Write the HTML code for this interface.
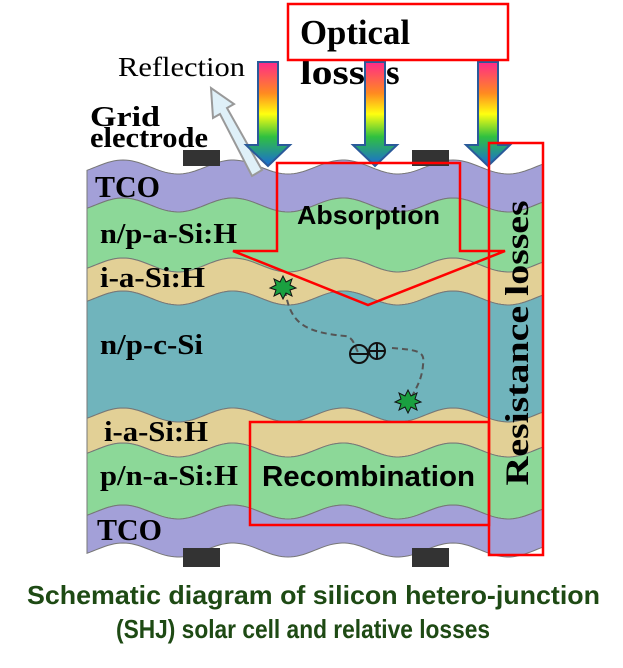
<!DOCTYPE html>
<html><head><meta charset="utf-8"><style>
html,body{margin:0;padding:0;background:#fff;}
svg{display:block;}
</style></head><body>
<svg id="s" width="623" height="668" viewBox="0 0 623 668" xmlns="http://www.w3.org/2000/svg">
<g id="layers"></g>
<rect x="183" y="150" width="37" height="16" fill="#333"/>
<rect x="412" y="150" width="37" height="16" fill="#333"/>
<rect x="183" y="548" width="37" height="19" fill="#333"/>
<rect x="412" y="548" width="37" height="19" fill="#333"/>
</svg>
<script>
const L=87,R=543,P=110,A=7,PH=123;
function wave(yc,dir){
  let pts=[];
  for(let x=L;x<=R;x+=3){pts.push([x,yc-A*Math.cos(2*Math.PI*(x-PH)/P)]);}
  if(dir<0)pts.reverse();
  return pts.map(p=>p[0].toFixed(1)+','+p[1].toFixed(1)).join(' ');
}
const b=[167,205,265,298,415,450,512,550];
const cols=['#a3a0d8','#8cd898','#e2d096','#70b4bc','#e2d096','#8cd898','#a3a0d8'];
let h='';
for(let i=0;i<7;i++){
  h+=`<polygon points="${wave(b[i],1)} ${wave(b[i+1],-1)}" fill="${cols[i]}" stroke="#777" stroke-width="1"/>`;
}
document.getElementById('layers').innerHTML=h;
</script>
<svg width="623" height="668" viewBox="0 0 623 668" style="position:absolute;left:0;top:0" xmlns="http://www.w3.org/2000/svg">
<defs>
<linearGradient id="rb2" x1="0" y1="0" x2="0" y2="1">
<stop offset="0" stop-color="#ff2a8a"/><stop offset="0.3" stop-color="#ff8a20"/><stop offset="0.5" stop-color="#ffff10"/><stop offset="0.72" stop-color="#30c040"/><stop offset="1" stop-color="#1a6ad8"/>
</linearGradient>
</defs>
<polygon points="262,170 252,176 220,114 213,118 211,88 234,104 227,108" fill="#dff0f8" stroke="#999" stroke-width="2"/>
<g stroke="#2a5a9a" stroke-width="2">
<polygon points="258,62 278,62 278,145 290,145 268,166 246,145 258,145" fill="url(#rb2)"/>
<polygon points="365,62 385,62 385,145 397,145 375,166 353,145 365,145" fill="url(#rb2)"/>
<polygon points="478,62 498,62 498,145 510,145 488,166 466,145 478,145" fill="url(#rb2)"/>
</g>
<g font-family="Liberation Serif, serif" fill="#000">
<text x="118" y="76" font-size="27" textLength="127" lengthAdjust="spacingAndGlyphs">Reflection</text>
<text x="90" y="126" font-size="28" font-weight="bold" textLength="70" lengthAdjust="spacingAndGlyphs">Grid</text>
<text x="90" y="147" font-size="28" font-weight="bold" textLength="118" lengthAdjust="spacingAndGlyphs">electrode</text>
<text x="300" y="44" font-size="35" font-weight="bold" textLength="110" lengthAdjust="spacingAndGlyphs">Optical</text>
<text x="300" y="84" font-size="35" font-weight="bold" textLength="65" lengthAdjust="spacingAndGlyphs">loss</text>
<text x="386" y="84" font-size="35" font-weight="bold">s</text>
<text x="95" y="197" font-size="31" font-weight="bold" textLength="65" lengthAdjust="spacingAndGlyphs">TCO</text>
<text x="100" y="243" font-size="28" font-weight="bold" textLength="137" lengthAdjust="spacingAndGlyphs">n/p-a-Si:H</text>
<text x="100" y="287" font-size="28" font-weight="bold" textLength="105" lengthAdjust="spacingAndGlyphs">i-a-Si:H</text>
<text x="100" y="354" font-size="28" font-weight="bold" textLength="103" lengthAdjust="spacingAndGlyphs">n/p-c-Si</text>
<text x="104" y="441" font-size="28" font-weight="bold" textLength="104" lengthAdjust="spacingAndGlyphs">i-a-Si:H</text>
<text x="100" y="485" font-size="28" font-weight="bold" textLength="138" lengthAdjust="spacingAndGlyphs">p/n-a-Si:H</text>
<text x="97" y="540" font-size="31" font-weight="bold" textLength="65" lengthAdjust="spacingAndGlyphs">TCO</text>
<text transform="translate(528,343) rotate(-90)" text-anchor="middle" font-size="33" font-weight="bold" textLength="285" lengthAdjust="spacingAndGlyphs">Resistance losses</text>
</g>
<g font-family="Liberation Sans, sans-serif" font-weight="bold" fill="#000">
<text x="297" y="224" font-size="26" textLength="143" lengthAdjust="spacingAndGlyphs">Absorption</text>
<text x="262" y="486" font-size="29" textLength="213" lengthAdjust="spacingAndGlyphs">Recombination</text>
</g>
<g fill="none" stroke="#f00" stroke-width="2.5">
<rect x="288" y="4" width="220" height="56"/>
<polygon points="277,163 460,163 460,251 505,251 368,305 233,251 277,251"/>
<rect x="489" y="143" width="54" height="412"/>
<rect x="250" y="422" width="239" height="103"/>
</g>
<path d="M285,290 C290,320 300,332 345,336 C355,337 355,350 360,355 M392,348 C420,350 425,352 423,365 C422,380 415,390 410,400" fill="none" stroke="#555" stroke-width="2" stroke-dasharray="6,4"/>
<g stroke="#111" stroke-width="2" fill="none">
<circle cx="359" cy="354" r="9"/><line x1="350" y1="354" x2="368" y2="354"/>
<circle cx="377" cy="351" r="8"/><line x1="369" y1="351" x2="385" y2="351"/><line x1="377" y1="343" x2="377" y2="359"/>
</g>
<g fill="#1aa040" stroke="#111" stroke-width="1">
<polygon points="283,276 286,282 292,279 290,285 296,288 290,290 292,296 286,293 283,299 280,293 274,296 276,290 270,288 276,285 274,279 280,282"/>
<polygon points="408,390 411,396 417,393 415,399 421,402 415,404 417,410 411,407 408,413 405,407 399,410 401,404 395,402 401,399 399,393 405,396"/>
</g>
<g font-family="Liberation Sans, sans-serif" font-weight="bold" fill="#1e4a14" font-size="26">
<text x="27" y="604" textLength="573" lengthAdjust="spacingAndGlyphs">Schematic diagram of silicon hetero-junction</text>
<text x="116" y="638" textLength="374" lengthAdjust="spacingAndGlyphs">(SHJ) solar cell and relative losses</text>
</g>
</svg>
</body></html>
